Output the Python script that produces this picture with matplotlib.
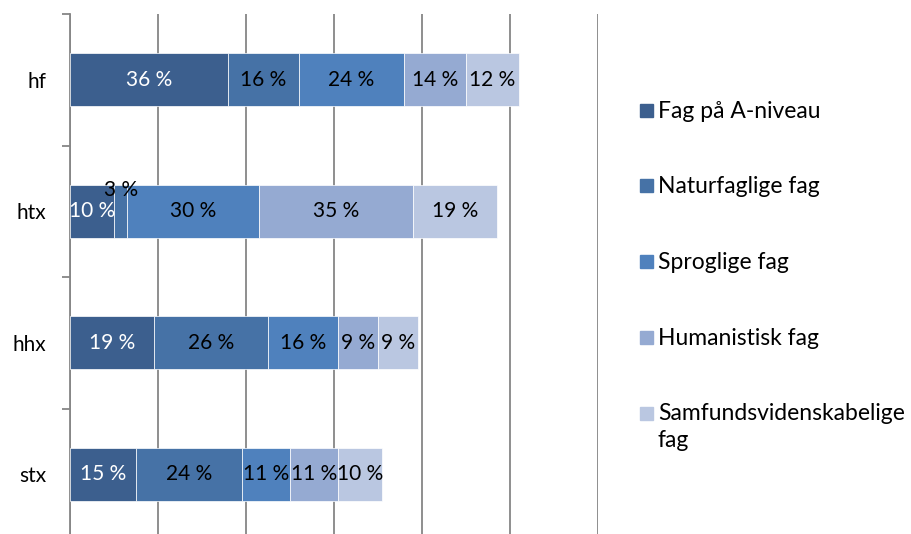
import numpy as np
import matplotlib.pyplot as plt
from matplotlib.ticker import FixedLocator
from matplotlib.patches import Rectangle

plt.rcParams['font.family'] = ['Lato', 'DejaVu Sans']

# Kategorier (nederst til øverst)
kategorier = ["stx", "hhx", "htx", "hf"]
serier = ["Fag på A-niveau", "Naturfaglige fag", "Sproglige fag",
          "Humanistisk fag", "Samfundsvidenskabelige\nfag"]
a_niveau = [15, 19, 10, 36]
naturfag = [24, 26, 3, 16]
sprog = [11, 16, 30, 24]
humanistisk = [11, 9, 35, 14]
samfund = [10, 9, 19, 12]
farver = ["#3C5F8E", "#4672A6", "#4F81BD", "#95AAD2", "#BAC7E1"]
tekstfarver = ["white", "black", "black", "black", "black"]

vaerdier = [a_niveau, naturfag, sprog, humanistisk, samfund]

W, H = 911, 534
fig = plt.figure(figsize=(W / 100, H / 100), dpi=100)
ax = fig.add_axes([70 / W, (H - 540) / H, 528 / W, 526 / H])

y = np.arange(len(kategorier))
venstre = np.zeros(len(kategorier))
for navn, v, farve, tf in zip(serier, vaerdier, farver, tekstfarver):
    v = np.array(v, dtype=float)
    bars = ax.barh(y, v, left=venstre, height=0.4, color=farve,
                   edgecolor="white", linewidth=0.5, label=navn, zorder=3)
    for i, (b, val) in enumerate(zip(bars, v)):
        cx = venstre[i] + val / 2
        cy = y[i]
        if val < 5:
            cy = y[i] + 0.16
        ax.text(cx, cy, f"{int(val)} %", ha="center", va="center",
                color=tf, fontsize=15, zorder=4)
    venstre += v

ax.set_xlim(0, 120)
ax.set_ylim(-0.5, 3.5)
ax.set_xticks(np.arange(0, 121, 20))
ax.tick_params(axis="x", length=0, labelbottom=False)
ax.grid(axis="x", color="#868686", linewidth=1.3, zorder=0)
ax.set_yticks(y)
ax.set_yticklabels(kategorier, fontsize=15)
ax.tick_params(axis="y", which="major", length=0, pad=17)
ax.yaxis.set_minor_locator(FixedLocator([0.5, 1.5, 2.5, 3.5]))
ax.tick_params(axis="y", which="minor", length=6, color="#868686", width=1.3)
for s in ["top", "right", "bottom"]:
    ax.spines[s].set_visible(False)
ax.spines["left"].set_color("#868686")
ax.spines["left"].set_linewidth(1.3)

# Forklaring til højre (håndtegnet, så firkanten flugter med første linje)
for k, (navn, farve) in enumerate(zip(serier, farver)):
    yc = 110 + k * 75.75
    fig.patches.append(Rectangle((640 / W, 1 - (yc + 6.5) / H), 13 / W, 13 / H,
                                 transform=fig.transFigure, color=farve))
    fig.text(658 / W, 1 - (yc - 9.5) / H, navn, ha="left", va="top",
             fontsize=16.5, linespacing=1.35)

fig.savefig("out.png", dpi=100)
